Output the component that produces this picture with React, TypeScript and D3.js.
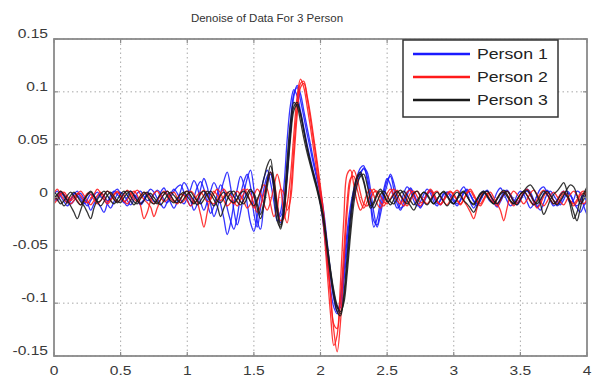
import React from "react";
import * as d3 from "d3";

// Sampling grid of every recording: 0 … 4 s, one sample each 0.025 s (161 samples).
const SAMPLE_STEP = 0.025;

// Denoised recordings, values in thousandths (1 = 0.001).
const person1A = [
  2, -3, 4, 1, -5, -2, 3, 6, 0, -4, -8, -3, 2, 5, 1, -2, -6, -10, -4, 3,
  5, 2, -3, -7, -2, 4, 6, 1, -3, -1, 3, 7, 4, -2, -5, 0, 6, 10, 12, 5,
  -2, -8, 0, 10, 15, 8, -5, -15, -8, 3, 12, 6, -10, -22, -30, -18, 2, 15, 22, 10,
  -15, -28, -10, 8, 20, 24, 12, -8, -18, -5, 30, 70, 98, 104, 92, 76, 60, 45, 30, 16,
  2, -20, -48, -75, -96, -108, -100, -72, -40, -14, 5, 18, 24, 27, 20, 0, -22, -26, -10, 4,
  16, 20, 8, -6, -12, -4, 5, 8, 2, -5, -10, -3, 4, 6, 0, -6, -3, 3, 5, 1,
  -4, -8, -2, 5, 8, 3, -3, -6, -1, 4, 7, 2, -5, -9, -4, 2, 6, 3, -2, -5,
  -1, 4, 8, 5, -2, -8, -12, -5, 3, 6, 2, -3, -7, -2, 4, 2, -5, -10, -14, -8, -4,
];
const person1B = [
  -4, 0, 5, 3, -2, -6, -3, 2, 4, -1, -5, -12, -6, 0, 4, 2, -3, -1, 5, 8,
  3, -4, -8, -3, 2, 0, -5, -2, 4, 8, 5, -1, -6, -10, -4, 3, 8, 4, -2, -6,
  0, 8, 16, 10, -4, -12, -4, 6, 14, 8, -6, -20, -35, -24, -6, 8, 20, 12, -6, -24,
  -32, -18, 2, 18, 26, 14, -4, -22, -14, 10, 55, 88, 102, 96, 82, 66, 50, 36, 22, 10,
  -6, -30, -60, -86, -104, -110, -94, -64, -32, -8, 8, 20, 28, 30, 16, -6, -28, -20, -4, 8,
  18, 12, -2, -10, -6, 4, 10, 6, -3, -8, -4, 3, 8, 4, -4, -8, -2, 4, 2, -3,
  -6, -1, 6, 10, 4, -5, -10, -4, 3, 6, 1, -4, -2, 5, 9, 4, -3, -8, -5, 2,
  6, 3, -4, -10, -6, 2, 8, 10, 4, -3, -8, -4, 3, 6, 1, -5, -2, 6, 4, -8, -16,
];
const person1C = [
  3, 6, 1, -4, -8, -3, 4, 2, -2, -6, -2, 3, 1, -4, -9, -14, -6, 2, 6, 3,
  -1, -5, 0, 6, 3, -3, -7, -3, 4, 2, -4, -2, 5, 9, 3, -5, -10, -4, 6, 14,
  10, -2, -12, -6, 8, 18, 10, -6, -18, -10, 4, 16, 24, 10, -12, -26, -14, 4, 18, 26,
  8, -22, -30, -6, 16, 22, 8, -12, -24, -10, 20, 62, 96, 106, 98, 82, 66, 50, 34, 20,
  6, -14, -42, -70, -92, -104, -104, -80, -48, -20, 0, 14, 22, 28, 24, 8, -14, -28, -16, 0,
  12, 22, 14, 0, -10, -8, 2, 9, 4, -4, -9, -5, 2, 7, 3, -3, -7, -2, 5, 3,
  -2, -6, -3, 4, 7, 2, -4, -8, -3, 3, 6, 2, -4, -6, -1, 5, 7, 2, -4, -7,
  -3, 3, 6, 2, -4, -9, -4, 4, 7, 3, -3, -8, -5, 2, 6, 3, -4, -8, -4, 2, -6,
];

const person2A = [
  -6, -2, 3, 5, 1, -3, 0, 4, 2, -3, -5, -1, 3, 8, 4, -2, -6, -3, 2, 5,
  1, -4, -2, 3, 6, 2, -8, -20, -14, -3, 4, 6, 1, -4, -2, 3, 5, 0, -5, -3,
  2, 6, 3, -4, -16, -28, -14, 0, 6, 2, -3, 1, 5, 2, -4, -8, -2, 4, 8, 3,
  -6, -14, -8, 4, 14, 24, 16, -4, -22, -20, -6, 20, 60, 96, 112, 104, 86, 66, 44, 22,
  0, -30, -70, -110, -140, -130, -80, -20, 22, 26, 12, -4, -12, -6, 4, 8, 2, -6, -10, -4,
  4, 8, 3, -3, -6, -1, 5, 7, 1, -5, -8, -3, 3, 6, 2, -4, -6, -2, 4, 6,
  2, -3, -7, -2, 4, 6, 1, -4, -8, -3, 3, 5, 0, -6, -12, -22, -10, 2, 6, 3,
  -2, -6, -2, 4, 7, 3, -3, -8, -4, 2, 5, 1, -4, -7, -2, 3, 6, 2, -3, -6, -2,
];
const person2B = [
  4, 8, 3, -2, -5, -1, 2, -3, -7, -2, 4, 3, -2, -6, -3, 2, 6, 4, -1, -4,
  -2, 3, 7, 4, -1, -4, 0, 5, 3, -2, -6, -3, 2, 6, 3, -1, -4, -1, 3, 2,
  -3, -8, -4, 2, 5, 1, -4, -2, 4, 8, 4, -3, -8, -5, 2, 6, 2, -4, -10, -6,
  2, 8, 4, -6, -12, -4, 10, 22, 10, -14, -24, 4, 46, 86, 108, 110, 94, 74, 52, 30,
  6, -20, -56, -92, -120, -124, -96, -50, -4, 18, 20, 8, -4, -10, -4, 4, 8, 3, -5, -8,
  -2, 5, 8, 3, -4, -8, -3, 4, 6, 1, -5, -3, 4, 8, 4, -3, -7, -3, 2, 5,
  3, -2, -6, -2, 5, 8, 3, -3, -6, -1, 4, 2, -4, -8, -3, 3, 6, 2, -4, -6,
  -1, 5, 8, 3, -4, -10, -6, 1, 5, 2, -3, -6, -1, 4, 2, -4, -8, -4, 2, 4, 0,
];
const person2C = [
  -3, 1, 6, 3, -2, -6, -3, 3, 6, 2, -3, -7, -3, 2, 5, 1, -4, -2, 3, 6,
  2, -3, -6, -2, 4, 7, 3, -2, -5, -9, -18, -10, -2, 3, 6, 2, -3, -6, -2, 4,
  6, 1, -5, -3, 3, 7, 3, -4, -6, -2, 4, 8, 3, -3, -6, -2, 5, 8, 4, -4,
  -10, -4, 6, 12, 8, -6, -18, -10, 8, 4, -12, -2, 36, 78, 104, 108, 96, 78, 56, 34,
  10, -16, -50, -90, -126, -146, -118, -64, -14, 16, 26, 18, 4, -6, -8, -2, 5, 6, 1, -4,
  -6, -1, 4, 7, 2, -4, -8, -3, 3, 6, 2, -3, -6, -2, 4, 6, 1, -4, -7, -2,
  4, 7, 3, -3, -8, -14, -20, -10, 0, 5, 3, -2, -5, -1, 4, 6, 2, -4, -8, -3,
  3, 6, 2, -4, -7, -2, 4, 7, 3, -2, -6, -3, 3, 6, 2, -3, -6, -2, 4, 6, 2,
];

const person3A = [
  5, 2, -3, -8, -4, 2, 5, 1, -4, -8, -14, -20, -10, -2, 3, 6, 2, -3, -6, -2,
  3, 6, 2, -3, -7, -3, 2, 5, 1, -4, -6, -2, 3, 5, 1, -3, -5, -1, 3, 5,
  1, -3, -6, -2, 4, 6, 2, -4, -8, -4, 2, 5, 1, -3, -5, -1, 4, 6, 2, -4,
  -8, -2, 6, 18, 30, 36, 8, -22, -28, -6, 36, 72, 90, 86, 72, 56, 42, 30, 18, 6,
  -8, -26, -50, -74, -94, -108, -112, -92, -56, -18, 8, 20, 24, 16, 2, -8, -4, 4, 8, 3,
  -3, -7, -2, 4, 7, 3, -3, -8, -12, -6, 1, 5, 3, -2, -6, -2, 3, 6, 2, -3,
  -6, -1, 4, 6, 1, -4, -7, -2, 3, 5, 1, -3, -6, -1, 4, 7, 3, -3, -6, -2,
  3, 6, 10, 12, 8, 2, -6, -16, -10, -2, 3, 6, 10, 14, 6, -8, -20, -14, -2, 4, 10,
];
const person3B = [
  -2, 3, 6, 2, -3, -8, -14, -20, -12, -3, 2, 5, 1, -4, -3, 2, 6, 3, -2, -5,
  -1, 4, 6, 1, -4, -6, -1, 3, 5, 1, -3, -6, -2, 3, 6, 2, -3, -5, -1, 4,
  6, 2, -3, -7, -3, 2, 6, 3, -2, -8, -18, -10, -2, 4, 6, 1, -4, -6, 0, 6,
  4, -6, -16, -4, 16, 30, 18, -8, -26, -14, 24, 62, 86, 90, 78, 62, 46, 32, 20, 8,
  -6, -22, -46, -70, -90, -104, -110, -96, -64, -28, 2, 18, 22, 14, 0, -10, -6, 2, 6, 2,
  -4, -2, 3, 6, 2, -3, -6, -1, 4, 6, 1, -4, -7, -3, 2, 5, 1, -4, -8, -4,
  2, 5, 2, -3, -6, -10, -14, -8, -1, 4, 6, 2, -3, -6, -2, 3, 6, 2, -4, -7,
  -2, 4, 7, 3, -3, -6, -2, 3, 6, 2, -3, -7, -3, 2, 8, 12, 10, 2, -6, -2, 6,
];
const person3C = [
  3, -2, -6, -3, 2, 5, 1, -4, -7, -2, 3, 6, 2, -4, -8, -4, 2, 5, 1, -3,
  -5, 0, 4, 6, 2, -3, -6, -3, 2, 4, 0, -4, -7, -3, 2, 5, 2, -2, -5, -1,
  3, 5, 1, -3, -6, -2, 3, 6, 2, -3, -5, -1, 4, 6, 1, -4, -7, -2, 4, 8,
  2, -10, -20, -8, 10, 24, 12, -14, -30, -16, 18, 56, 82, 88, 80, 64, 48, 34, 22, 10,
  -4, -20, -44, -68, -88, -102, -108, -100, -72, -36, -6, 12, 20, 22, 12, -2, -10, -4, 3, 6,
  2, -4, -6, -1, 4, 6, 2, -3, -7, -3, 2, 5, 2, -3, -6, -2, 3, 5, 1, -4,
  -6, -2, 3, 5, 1, -4, -6, -1, 4, 6, 2, -3, -6, -2, 3, 5, 1, -3, -6, -2,
  3, 6, 2, -3, -7, -4, 2, 6, 3, -2, -6, -3, 2, 5, 1, -4, -14, -22, -10, 2, 8,
];

const personNames = ["Person 1", "Person 2", "Person 3"];
const personColors = ["#1a1aff", "#ff1a1a", "#1a1a1a"];
const personTraces = [
  [person1A, person1B, person1C],
  [person2A, person2B, person2C],
  [person3A, person3B, person3C],
];

const xTicks = [0, 0.5, 1, 1.5, 2, 2.5, 3, 3.5, 4];
const xTickLabels = ["0", "0.5", "1", "1.5", "2", "2.5", "3", "3.5", "4"];
const yTicks = [0.15, 0.1, 0.05, 0, -0.05, -0.1, -0.15];
const yTickLabels = ["0.15", "0.1", "0.05", "0", "-0.05", "-0.1", "-0.15"];

const TITLE = "Denoise of Data For 3 Person";

const W = 601;
const H = 378;
const plot = { left: 54, right: 587, top: 39, bottom: 356 };

export default function App() {
  const x = d3.scaleLinear().domain([0, 4]).range([plot.left, plot.right]);
  const y = d3.scaleLinear().domain([-0.15, 0.15]).range([plot.bottom, plot.top]);

  const line = d3
    .line<number>()
    .x((_, i) => x(i * SAMPLE_STEP))
    .y((v) => y(v / 1000))
    .curve(d3.curveCatmullRom.alpha(0.5));

  const axisColor = "#8a8a8a";
  const gridColor = "#a8a8a8";
  const labelColor = "#3a3a3a";
  const font = "'Liberation Sans', Arial, sans-serif";

  const legend = { x: 403, y: 40, w: 155, h: 77 };

  // labels are drawn slightly widened horizontally
  const wide = (tx: number, ty: number, s: number) => `translate(${tx},${ty}) scale(${s},1)`;

  return (
    <svg
      width={W}
      height={H}
      viewBox={`0 0 ${W} ${H}`}
      style={{ position: "absolute", left: 0, top: 0, background: "#fff" }}
    >
      <defs>
        <clipPath id="plotClip">
          <rect x={plot.left} y={plot.top} width={plot.right - plot.left} height={plot.bottom - plot.top} />
        </clipPath>
      </defs>

      {/* title */}
      <text x={267} y={22} textAnchor="middle" fontFamily={font} fontSize={11.5} fill="#333">
        {TITLE}
      </text>

      {/* grid */}
      <g stroke={gridColor} strokeWidth={1} strokeDasharray="1.5,3">
        {xTicks.slice(1, -1).map((t) => (
          <line key={"gx" + t} x1={x(t)} x2={x(t)} y1={plot.top} y2={plot.bottom} />
        ))}
        {yTicks.map((t) => (
          <line key={"gy" + t} x1={plot.left} x2={plot.right} y1={y(t)} y2={y(t)} />
        ))}
      </g>

      {/* recordings */}
      <g clipPath="url(#plotClip)" fill="none">
        {personTraces.map((traces, p) =>
          traces.map((vals, k) => (
            <path
              key={`p${p}-${k}`}
              d={line(vals) ?? ""}
              stroke={personColors[p]}
              strokeWidth={1.3}
              strokeOpacity={0.88}
            />
          ))
        )}
      </g>

      {/* frame and ticks */}
      <rect
        x={plot.left}
        y={plot.top}
        width={plot.right - plot.left}
        height={plot.bottom - plot.top}
        fill="none"
        stroke={axisColor}
        strokeWidth={1.8}
      />
      <g stroke={axisColor} strokeWidth={1.2}>
        {xTicks.map((t) => (
          <g key={"tx" + t}>
            <line x1={x(t)} x2={x(t)} y1={plot.bottom} y2={plot.bottom - 4} />
            <line x1={x(t)} x2={x(t)} y1={plot.top} y2={plot.top + 4} />
          </g>
        ))}
        {yTicks.map((t) => (
          <g key={"ty" + t}>
            <line x1={plot.left} x2={plot.left + 4} y1={y(t)} y2={y(t)} />
            <line x1={plot.right} x2={plot.right - 4} y1={y(t)} y2={y(t)} />
          </g>
        ))}
      </g>

      {/* tick labels */}
      <g fontFamily={font} fontSize={13} fill={labelColor}>
        {xTicks.map((t, i) => (
          <text key={"lx" + t} transform={wide(x(t), 375, 1.2)} textAnchor="middle">
            {xTickLabels[i]}
          </text>
        ))}
        {yTicks.map((t, i) => (
          <text key={"ly" + t} transform={wide(48, y(t) - 1, 1.2)} textAnchor="end">
            {yTickLabels[i]}
          </text>
        ))}
      </g>

      {/* legend */}
      <rect x={legend.x} y={legend.y} width={legend.w} height={legend.h} fill="#fff" stroke="#333" strokeWidth={1.5} />
      {personNames.map((name, i) => {
        const ly = legend.y + 14 + i * 23;
        return (
          <g key={name}>
            <line x1={legend.x + 10} x2={legend.x + 67} y1={ly} y2={ly} stroke={personColors[i]} strokeWidth={2.5} />
            <text transform={wide(legend.x + 74, ly + 5, 1.22)} fontFamily={font} fontSize={14.5} fill="#222">
              {name}
            </text>
          </g>
        );
      })}
    </svg>
  );
}
